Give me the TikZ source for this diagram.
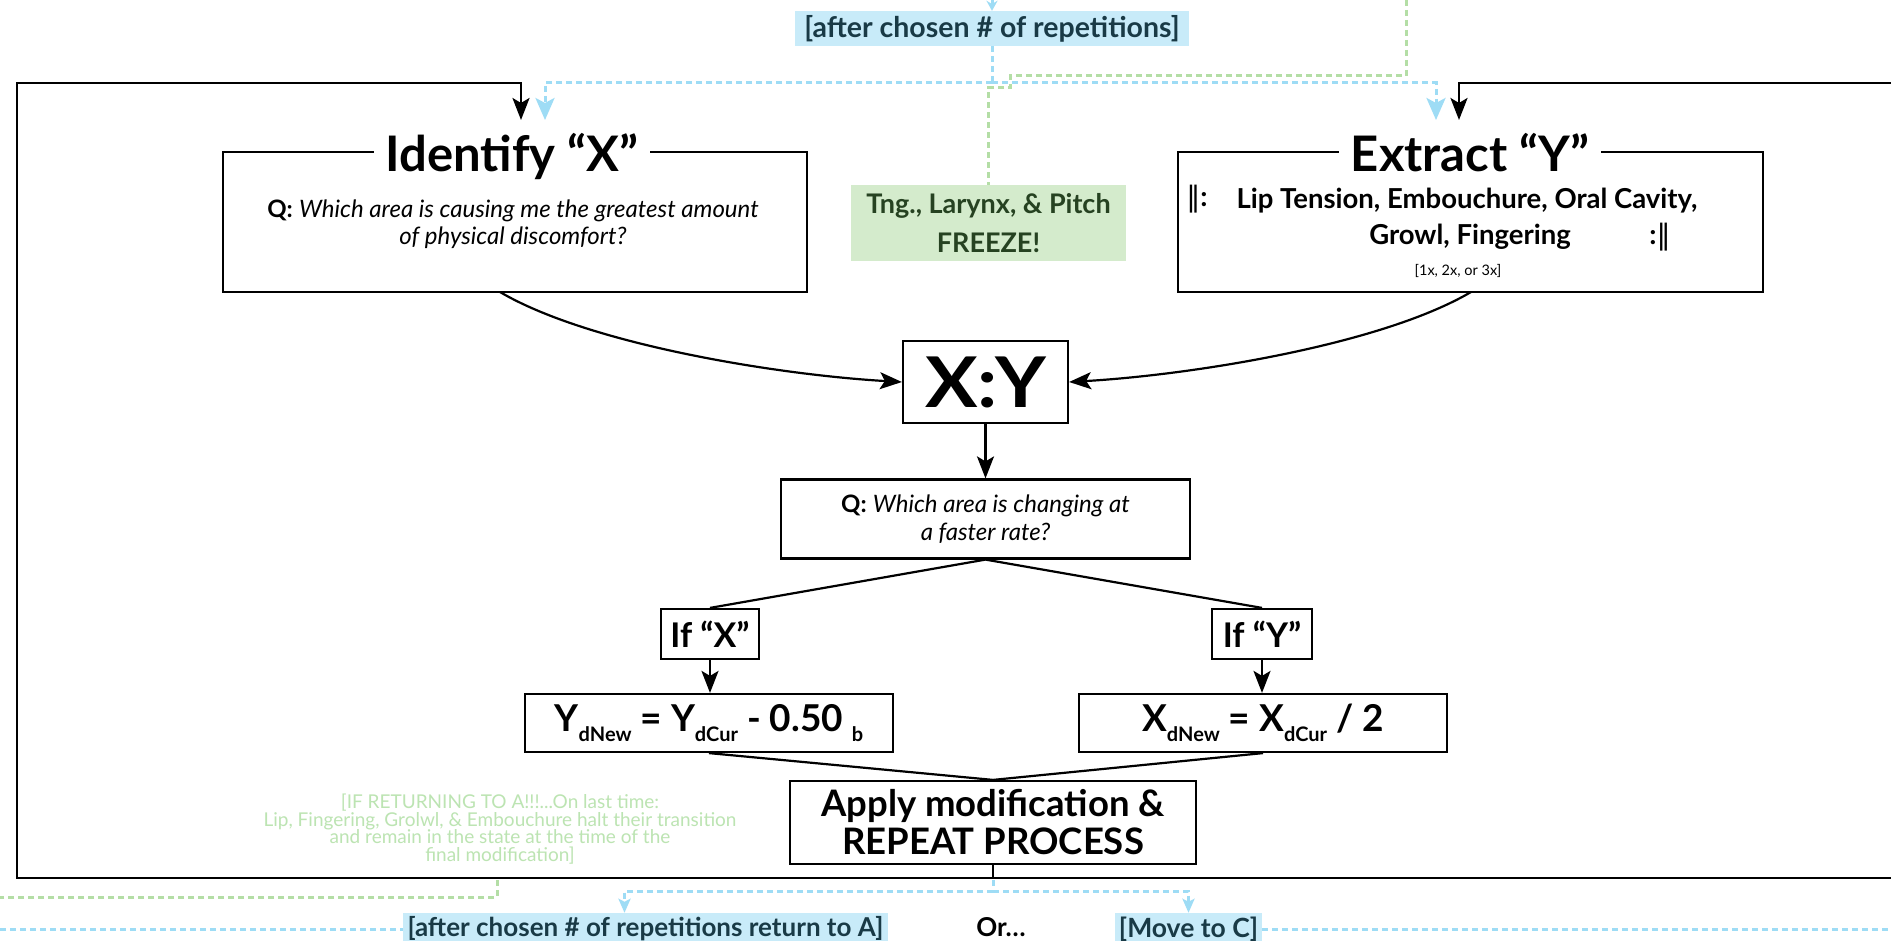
\documentclass[tikz,border=0pt]{standalone}
\usepackage{fontspec}
\setmainfont{Lato}
\newfontfamily\dvs{DejaVu Sans}
\usetikzlibrary{arrows.meta}
\definecolor{skyline}{RGB}{158,220,245}
\definecolor{skyfill}{RGB}{200,235,249}
\definecolor{skytext}{RGB}{25,58,70}
\definecolor{grnline}{RGB}{180,222,166}
\definecolor{grnfill}{RGB}{212,235,204}
\definecolor{grntext}{RGB}{38,66,33}
\definecolor{grnnote}{RGB}{188,228,178}
\newcommand{\fsz}[2]{\fontsize{#1pt}{#2pt}\selectfont}
\newcommand{\subx}[1]{\raisebox{-10pt}{\fsz{20}{20}#1}}
\begin{document}
\begin{tikzpicture}[x=1pt,y=-1pt,
  box/.style={draw=black, line width=2.2pt, inner sep=0pt, fill=white},
  conn/.style={draw=black, line width=2.2pt},
  frameline/.style={draw=black, line width=2.8pt},
  tip/.style={-{Stealth[length=22pt,width=17pt,inset=5pt]}},
  btip/.style={-{Stealth[length=22pt,width=19pt,inset=5pt]}},
  bstip/.style={-{Stealth[length=14pt,width=12pt,inset=3pt]}},
  bluedash/.style={draw=skyline, line width=3pt, dash pattern=on 6pt off 4pt},
  grndash/.style={draw=grnline, line width=3pt, dash pattern=on 6pt off 4pt},
  bluetag/.style={fill=skyfill, text=skytext, inner sep=0pt, font=\fsz{26}{30}\bfseries},
  title/.style={fill=white, inner xsep=12pt, inner ysep=2pt, font=\fsz{49}{52}\bfseries},
  qtext/.style={align=center, font=\fsz{24}{27}},
]
\useasboundingbox (0,0) rectangle (1891,941);
\fill[white] (0,0) rectangle (1891,941);

% Identify box
\node[box, minimum width=584pt, minimum height=140pt] (idbox) at (515,222) {};
\node[title, anchor=base] (idtitle) at (512,172) {Identify “X”};
\node[qtext] (idq) at (513,224) {\textbf{Q:} \textit{Which area is causing me the greatest amount}\\\textit{of physical discomfort?}};

% Extract box
\node[box, minimum width=585pt, minimum height=140pt] (exbox) at (1470.5,222) {};
\node[title, anchor=base] (extitle) at (1470,172) {Extract “Y”};
\node[font=\fsz{27.5}{30}\bfseries] (exl1) at (1467,201) {Lip Tension, Embouchure, Oral Cavity,};
\node[font=\fsz{27.5}{30}\bfseries] (exl2) at (1470,237) {Growl, Fingering};
\node[font=\fsz{28}{30}] (repl) at (1197,199) {{\dvs ‖}\textbf{:}};
\node[font=\fsz{28}{30}] (repr) at (1660,237) {\textbf{:}{\dvs ‖}};
\node[font=\fsz{14.5}{16}] (times) at (1458,271) {[1x, 2x, or 3x]};

% Freeze
\node[fill=grnfill, text=grntext, minimum width=275pt, minimum height=76pt, align=center, font=\fsz{27}{39}\bfseries, inner sep=0pt] (freeze) at (988.5,223) {Tng., Larynx, \& Pitch\\FREEZE!};

% X:Y
\node[box, minimum width=165pt, minimum height=82pt, font=\fsz{70}{72}\bfseries] (xy) at (985.5,382) {\scalebox{1.12}[1]{X:Y}};

% Q2
\node[box, minimum width=409pt, minimum height=79pt, align=center, font=\fsz{24}{28}] (q2) at (985.5,519) {\textbf{Q:} \textit{Which area is changing at}\\\textit{a faster rate?}};

% If boxes
\node[box, minimum width=98pt, minimum height=50pt, font=\fsz{34}{36}\bfseries] (ifx) at (710,634) {If “X”};
\node[box, minimum width=100pt, minimum height=50pt, font=\fsz{34}{36}\bfseries] (ify) at (1262,634) {If “Y”};

% Formulas
\node[box, minimum width=368pt, minimum height=58pt, font=\fsz{37}{38}\bfseries] (ydn) at (709,723) {Y\subx{dNew} = Y\subx{dCur} - 0.50 \subx{b}};
\node[box, minimum width=368pt, minimum height=58pt, font=\fsz{37}{38}\bfseries] (xdn) at (1263,723) {X\subx{dNew} = X\subx{dCur} / 2};

% Apply
\node[box, minimum width=406pt, minimum height=83pt, align=center, font=\fsz{36.5}{38}\bfseries] (apply) at (993,822.5) {Apply modification \&\\REPEAT PROCESS};

% Labels
\node[bluetag, minimum width=394pt, minimum height=35pt, font=\fsz{28.5}{30}\bfseries] (toplab) at (992,28.5) {[after chosen \# of repetitions]};
\node[bluetag, minimum width=485pt, minimum height=32pt] (retA) at (645.5,929) {[after chosen \# of repetitions return to A]};
\node[font=\fsz{26}{28}\bfseries] (ornode) at (1001,927) {Or…};
\node[bluetag, minimum width=147pt, minimum height=32pt, font=\fsz{26.5}{30}\bfseries] (movec) at (1188.5,929) {[Move to C]};
\node[align=center, text=grnnote, font=\fsz{19}{17.5}] (note) at (500,829) {[IF RETURNING TO A!!!...On last time:\\Lip, Fingering, Grolwl, \& Embouchure halt their transition\\and remain in the state at the time of the\\final modification]};

% Frame
\coordinate (fb) at (993,878);
\coordinate (fbl) at (17,878);
\coordinate (ftl) at (17,83);
\coordinate (aL) at (521,120);
\coordinate (fbr) at (1891,878);
\coordinate (ftr) at (1891,83);
\coordinate (aR) at (1459,120);
\draw[frameline] (apply.south) -- (fb);
\draw[frameline, tip] (fb) -- (fbl) -- (ftl) -| (aL);
\draw[frameline] (fb) -- (fbr);
\draw[frameline, tip] (ftr) -| (aR);

% Curves
\coordinate (cs1) at (500,292);
\coordinate (cs2) at (1471,292);
\draw[conn, tip] (cs1) .. controls (590,345) and (780,375) .. (xy.west);
\draw[conn, tip] (cs2) .. controls (1381,345) and (1191,375) .. (xy.east);

% Flow
\draw[conn, tip] (xy.south) -- (q2.north);
\draw[conn] (q2.south) -- (ifx.north);
\draw[conn] (q2.south) -- (ify.north);
\draw[conn, tip] (ifx.south) -- (ifx.south |- ydn.north);
\draw[conn, tip] (ify.south) -- (ify.south |- xdn.north);
\draw[conn] (ydn.south) -- (apply.north);
\draw[conn] (xdn.south) -- (apply.north);

% Blue top
\coordinate (btop) at (992,0);
\coordinate (bsplit) at (992,83);
\coordinate (bL) at (545,120);
\coordinate (bR) at (1436,120);
\draw[bluedash, -{Stealth[length=10pt,width=11pt]}] (btop) -- (toplab.north);
\draw[bluedash] (toplab.south) -- (bsplit);
\draw[bluedash, btip] (bsplit) -| (bL);
\draw[bluedash, btip] (bsplit) -| (bR);

% Green top
\coordinate (gtop) at (1406,0);
\coordinate (gc1) at (1406,76);
\coordinate (gc2) at (1010,76);
\coordinate (gc3) at (1010,88);
\draw[grndash] (gtop) -- (gc1) -- (gc2) -- (gc3) -| (freeze.north);

% Green bottom
\coordinate (gb1) at (497,880);
\coordinate (gb2) at (497,897);
\coordinate (gb3) at (0,897);
\draw[grndash] (gb1) -- (gb2) -- (gb3);

% Blue bottom
\coordinate (fb2) at (993,880);
\coordinate (bb) at (993,891);
\draw[bluedash] (fb2) -- (bb);
\draw[bluedash, bstip] (bb) -| ([xshift=-21pt]retA.north);
\draw[bluedash, bstip] (bb) -| (movec.north);
\coordinate (bleft) at (0,929);
\coordinate (bright) at (1891,929);
\draw[bluedash] (bleft) -- (retA.west);
\draw[bluedash] (movec.east) -- (bright);
\end{tikzpicture}
\end{document}
